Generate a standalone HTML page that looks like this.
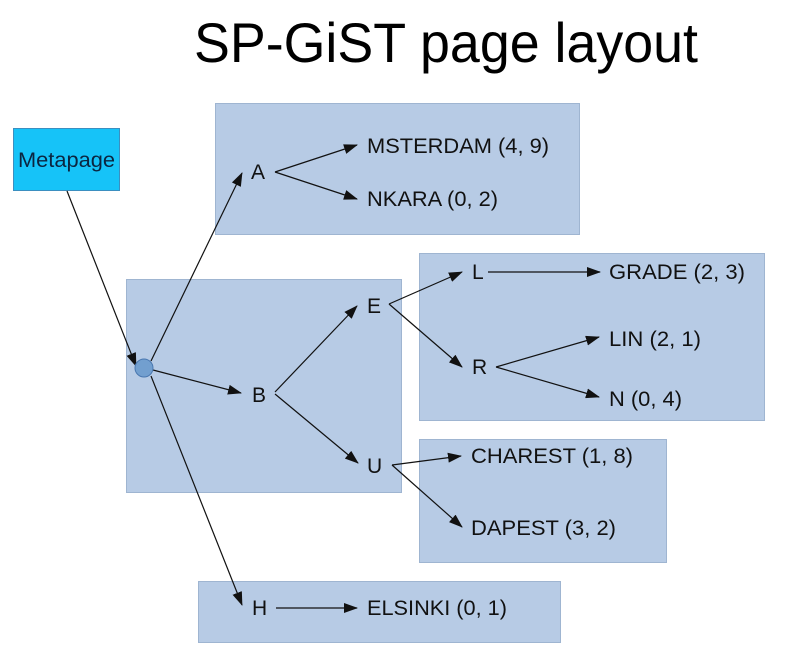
<!DOCTYPE html>
<html>
<head>
<meta charset="utf-8">
<style>
html,body{margin:0;padding:0;background:#fff;}
svg{display:block;}
text{font-family:"Liberation Sans",Arial,sans-serif;}
</style>
</head>
<body>
<svg width="800" height="660" viewBox="0 0 800 660" xmlns="http://www.w3.org/2000/svg">
<defs>
<marker id="ah" markerWidth="14" markerHeight="10" refX="13" refY="5" orient="auto" markerUnits="userSpaceOnUse">
<path d="M0,0 L14,5 L0,10 Z" fill="#111"/>
</marker>
</defs>
<rect width="800" height="660" fill="#fff"/>

<text x="194" y="62" font-size="56" fill="#000" textLength="504" lengthAdjust="spacingAndGlyphs">SP-GiST page layout</text>

<!-- boxes -->
<rect x="215.5" y="103.5" width="364" height="131" fill="#b7cbe5" stroke="#9fb5d1" stroke-width="1"/>
<rect x="126.5" y="279.5" width="275" height="213" fill="#b7cbe5" stroke="#9fb5d1" stroke-width="1"/>
<rect x="419.5" y="253.5" width="345" height="167" fill="#b7cbe5" stroke="#9fb5d1" stroke-width="1"/>
<rect x="419.5" y="439.5" width="247" height="123" fill="#b7cbe5" stroke="#9fb5d1" stroke-width="1"/>
<rect x="198.5" y="581.5" width="362" height="61" fill="#b7cbe5" stroke="#9fb5d1" stroke-width="1"/>

<!-- metapage -->
<rect x="13.5" y="128.5" width="106" height="62" fill="#16c3f8" stroke="#3b8fc0" stroke-width="1"/>
<text x="18" y="167" font-size="21" fill="#0b2540" textLength="97" lengthAdjust="spacingAndGlyphs">Metapage</text>

<!-- connectors -->
<g stroke="#111" stroke-width="1.2" fill="none" marker-end="url(#ah)">
<line x1="67" y1="191" x2="136" y2="366"/>
<line x1="151" y1="361" x2="242" y2="173"/>
<line x1="153" y1="370" x2="241" y2="393"/>
<line x1="151" y1="376" x2="242" y2="605"/>
<line x1="275" y1="172" x2="357" y2="145"/>
<line x1="275" y1="172" x2="357" y2="199"/>
<line x1="275" y1="392" x2="357" y2="306"/>
<line x1="275" y1="394" x2="358" y2="463"/>
<line x1="389" y1="304" x2="462" y2="272"/>
<line x1="389" y1="304" x2="462" y2="367"/>
<line x1="488" y1="272" x2="600" y2="272"/>
<line x1="496" y1="367" x2="599" y2="337"/>
<line x1="496" y1="367" x2="599" y2="397"/>
<line x1="392" y1="465" x2="461" y2="456"/>
<line x1="392" y1="465" x2="462" y2="527"/>
<line x1="276" y1="608" x2="357" y2="608"/>
</g>

<!-- circle -->
<circle cx="144" cy="368" r="9" fill="#729fcf" stroke="#4a78b0" stroke-width="1"/>

<!-- labels -->
<g font-size="21" fill="#111">
<text x="251" y="179">A</text>
<text x="367" y="153" textLength="182" lengthAdjust="spacingAndGlyphs">MSTERDAM (4, 9)</text>
<text x="367" y="206" textLength="131" lengthAdjust="spacingAndGlyphs">NKARA (0, 2)</text>
<text x="252" y="402">B</text>
<text x="367" y="313">E</text>
<text x="367" y="473">U</text>
<text x="252" y="615">H</text>
<text x="367" y="615" textLength="140" lengthAdjust="spacingAndGlyphs">ELSINKI (0, 1)</text>
<text x="472" y="279">L</text>
<text x="472" y="374">R</text>
<text x="609" y="279" textLength="136" lengthAdjust="spacingAndGlyphs">GRADE (2, 3)</text>
<text x="609" y="346" textLength="92" lengthAdjust="spacingAndGlyphs">LIN (2, 1)</text>
<text x="609" y="406" textLength="73" lengthAdjust="spacingAndGlyphs">N (0, 4)</text>
<text x="471" y="463" textLength="162" lengthAdjust="spacingAndGlyphs">CHAREST (1, 8)</text>
<text x="471" y="535" textLength="145" lengthAdjust="spacingAndGlyphs">DAPEST (3, 2)</text>
</g>
</svg>
</body>
</html>
